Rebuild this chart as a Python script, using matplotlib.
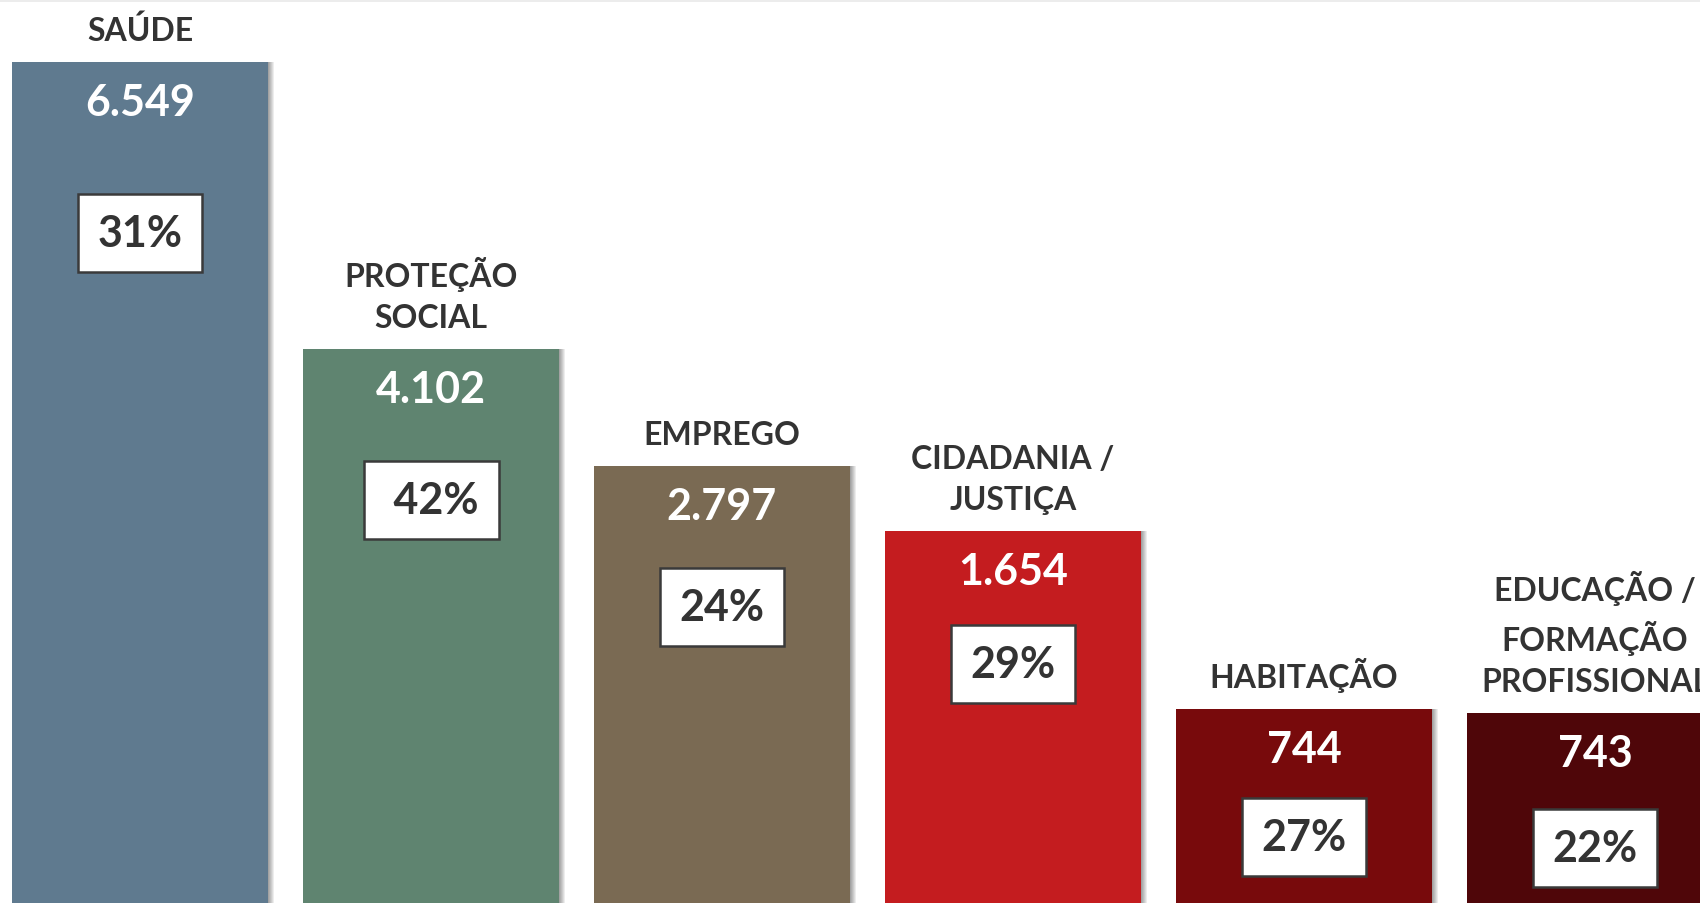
import matplotlib.pyplot as plt
from matplotlib.patches import Rectangle

categories = ["SAÚDE", "PROTEÇÃO\nSOCIAL", "EMPREGO", "CIDADANIA /\nJUSTIÇA",
              "HABITAÇÃO", "EDUCAÇÃO /\nFORMAÇÃO\nPROFISSIONAL"]
values = ["6.549", "4.102", "2.797", "1.654", "744", "743"]
shares = ["31%", " 42%", "24%", "29%", "27%", "22%"]
# bar heights as drawn in the picture (the bars are not to scale)
bar_heights = [841, 554, 437, 372, 194, 190]
colors = ["#5f7a8f", "#5f8470", "#7a6a53", "#c41c1f", "#780a0c", "#4f0609"]

plt.rcParams["font.family"] = ["Lato", "DejaVu Sans"]

fig = plt.figure(figsize=(17, 9.04), dpi=100)
ax = fig.add_axes([0, 0, 1, 1])
ax.set_xlim(-140 / 291, 1560 / 291)
ax.set_ylim(0, 904)
ax.axis("off")

px = 1 / 291  # one pixel in x data units
width = 256 * px
x = list(range(len(categories)))

# soft shadow on the right of each bar
for k in range(1, 7):
    ax.bar([i + k * px for i in x], bar_heights, width=width, color="#000000",
           alpha=0.07, zorder=1)
ax.bar(x, bar_heights, width=width, color=colors, zorder=2)

box_drop = [171, 151, 141, 133, 128, 135]
box_w = [124, 135, 124, 124, 124, 124]
for i, h in enumerate(bar_heights):
    ax.text(i, h - 40, values[i], ha="center", va="center", color="white",
            fontsize=31, fontweight="bold", zorder=4)
    cy = h - box_drop[i]
    bw = box_w[i] * px
    ax.add_patch(Rectangle((i - bw / 2, cy - 39), bw, 78, facecolor="white",
                           edgecolor="#3a3a3a", linewidth=1.8, zorder=3))
    ax.text(i, cy, shares[i], ha="center", va="center", color="#333333",
            fontsize=31, fontweight="bold", zorder=4)
    ax.text(i, h + 17, categories[i], ha="center", va="bottom", color="#333333",
            fontsize=23, fontweight="bold", linespacing=1.5, zorder=4)

# thin grey line along the top edge
fig.patches.append(Rectangle((0, 1 - 3 / 904), 1, 3 / 904, transform=fig.transFigure,
                             facecolor="#ececec", edgecolor="none"))

fig.savefig("out.png", dpi=100)
